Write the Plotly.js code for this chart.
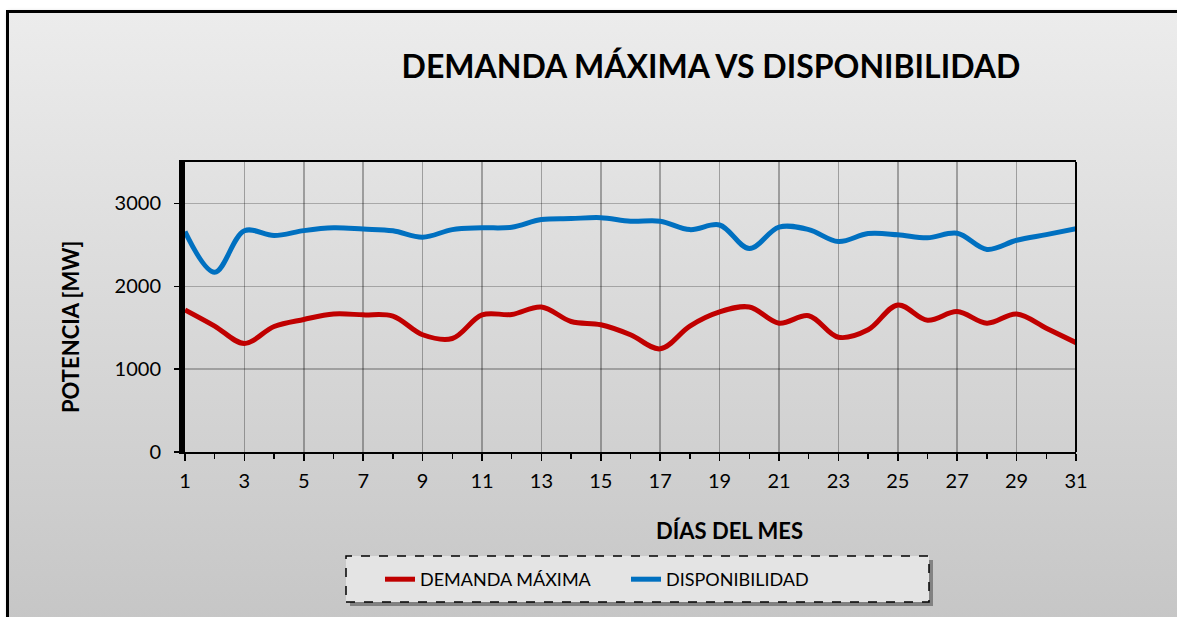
<!DOCTYPE html>
<html>
<head>
<meta charset="utf-8">
<script src="https://cdn.plot.ly/plotly-3.0.1.min.js"></script>
<style>
  html, body { margin:0; padding:0; width:1177px; height:617px; overflow:hidden; background:#ffffff; }
  #frame { position:absolute; left:6px; top:10px; width:1300px; height:640px; border:3px solid #000;
           background:linear-gradient(to bottom, #ececec 0%, #c4c4c4 100%);
           box-shadow: 2px 2px 4px rgba(0,0,0,0.35); }
  #chart { position:absolute; left:0; top:0; width:1177px; height:617px; }
</style>
</head>
<body>
<div id="frame"></div>
<div id="chart"></div>
<script>
const days = [1,2,3,4,5,6,7,8,9,10,11,12,13,14,15,16,17,18,19,20,21,22,23,24,25,26,27,28,29,30,31];
const demandaMaxima = [1715,1520,1310,1515,1600,1665,1655,1640,1415,1370,1655,1660,1750,1575,1535,1415,1245,1520,1690,1750,1555,1645,1385,1475,1775,1590,1695,1555,1665,1495,1320];
const disponibilidad = [2660,2170,2670,2612,2672,2705,2690,2670,2592,2684,2705,2713,2805,2817,2828,2785,2785,2684,2740,2455,2715,2684,2540,2636,2622,2585,2640,2445,2555,2624,2695];

const titleText = 'DEMANDA MÁXIMA VS DISPONIBILIDAD';
const xTitle = 'DÍAS DEL MES';
const yTitle = 'POTENCIA [MW]';
const seriesNames = ['DEMANDA MÁXIMA', 'DISPONIBILIDAD'];

const FONT = 'Lato, "Open Sans", sans-serif';

const traces = [
  { x: days, y: demandaMaxima, name: seriesNames[0], type: 'scatter', mode: 'lines',
    line: { color: '#C00000', width: 5, shape: 'spline', smoothing: 1 } },
  { x: days, y: disponibilidad, name: seriesNames[1], type: 'scatter', mode: 'lines',
    line: { color: '#0070C0', width: 5, shape: 'spline', smoothing: 1 } }
];

// pixel -> paper helpers (plot area: x 185..1076, y 162..452)
const px = v => (v - 185) / 891;
const py = v => (452 - v) / 290;

const layout = {
  width: 1177, height: 617,
  paper_bgcolor: 'rgba(0,0,0,0)', plot_bgcolor: 'rgba(0,0,0,0)',
  margin: { l: 185, r: 101, t: 162, b: 165 },
  font: { family: FONT, size: 19, color: '#000' },
  title: { text: '<b>' + titleText + '</b>', font: { family: FONT, size: 32, color: '#000' },
           xref: 'container', yref: 'container', x: 711/1177, xanchor: 'center', y: 1 - 67/617, yanchor: 'middle' },
  xaxis: {
    range: [1, 31], tick0: 1, dtick: 2, tickmode: 'linear',
    showgrid: true, gridcolor: 'rgba(0,0,0,0.3)', gridwidth: 1.5,
    showline: true, linecolor: '#000', linewidth: 2, mirror: true,
    ticks: 'outside', ticklen: 7, tickwidth: 1.5, tickcolor: '#000',
    minor: { dtick: 1, tick0: 1, ticks: 'outside', ticklen: 5, tickwidth: 1.5, tickcolor: '#000', showgrid: false },
    tickfont: { family: FONT, size: 20 }, ticklabelstandoff: 3, zeroline: false, fixedrange: true
  },
  yaxis: {
    range: [0, 3500], tick0: 0, dtick: 1000, tickmode: 'linear',
    showgrid: true, gridcolor: 'rgba(0,0,0,0.25)', gridwidth: 1.5,
    showline: true, linecolor: '#000', linewidth: 6,
    ticks: 'outside', ticklen: 5, tickwidth: 1.5, tickcolor: '#000',
    tickfont: { family: FONT, size: 20 }, ticklabelstandoff: 9, zeroline: false, fixedrange: true
  },
  showlegend: true,
  legend: {
    orientation: 'h', x: px(380), xanchor: 'left', y: py(561), yanchor: 'top',
    bgcolor: 'rgba(0,0,0,0)', borderwidth: 0,
    font: { family: FONT, size: 18, color: '#000' },
    entrywidth: 201, entrywidthmode: 'pixels', itemwidth: 30
  },
  shapes: [
    { type: 'line', xref: 'paper', yref: 'paper', x0: 1, x1: 1, y0: 0, y1: 1, line: { color: '#000', width: 2 } },
    { type: 'rect', xref: 'paper', yref: 'paper', x0: px(350), x1: px(933), y0: py(606), y1: py(560),
      line: { width: 0 }, fillcolor: 'rgba(0,0,0,0.35)', layer: 'below' },
    { type: 'rect', xref: 'paper', yref: 'paper', x0: px(346), x1: px(929), y0: py(602), y1: py(556),
      line: { color: '#000', width: 1.5, dash: 'dash' }, fillcolor: '#e4e4e4', layer: 'below' }
  ],
  annotations: [
    { text: '<b>' + xTitle + '</b>', xref: 'paper', yref: 'paper', x: px(729), y: py(530),
      xanchor: 'center', yanchor: 'middle', showarrow: false, font: { family: FONT, size: 22, color: '#000' } },
    { text: '<b>' + yTitle + '</b>', xref: 'paper', yref: 'paper', x: px(70), y: py(327),
      xanchor: 'center', yanchor: 'middle', textangle: -90, showarrow: false, font: { family: FONT, size: 22, color: '#000' } }
  ]
};

Plotly.newPlot('chart', traces, layout, { displayModeBar: false, staticPlot: true });
</script>
</body>
</html>
